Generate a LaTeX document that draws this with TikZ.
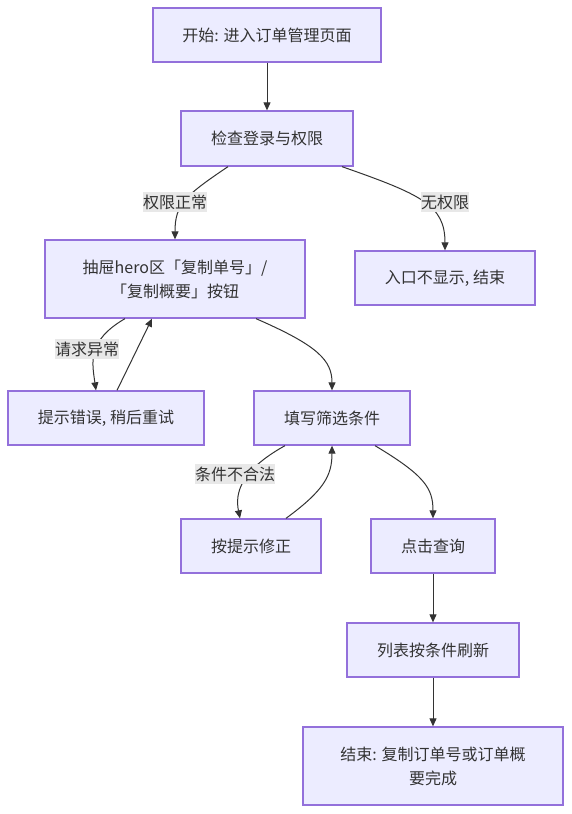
\documentclass[tikz,border=0pt]{standalone}
\usepackage{fontspec}
\setmainfont{Noto Sans CJK SC}
\usetikzlibrary{arrows.meta}
\definecolor{nodefill}{HTML}{ECECFF}
\definecolor{nodeborder}{HTML}{9370DB}
\definecolor{ink}{HTML}{333333}
\definecolor{labelbg}{HTML}{E8E8E8}
\begin{document}
\begin{tikzpicture}[x=1pt,y=-1pt,
  box/.style={draw=nodeborder,fill=nodefill,line width=1.3pt,text=ink,align=center,
    inner sep=0pt,font=\fontsize{16}{24}\selectfont},
  edge/.style={draw=ink,line width=1pt,-{Triangle[length=8pt,width=7pt]}},
  elabel/.style={fill=labelbg,text=ink,inner xsep=0pt,inner ysep=3pt,font=\fontsize{16}{20}\selectfont}]
\useasboundingbox (0,0) rectangle (571,814);
\node[box,minimum width=228pt,minimum height=54pt] (start) at (267,35) {开始: 进入订单管理页面};
\node[box,minimum width=172pt,minimum height=55pt] (check) at (267,138.5) {检查登录与权限};
\node[box,minimum width=260pt,minimum height=78pt] (hero) at (175,279) {抽屉hero区「复制单号」/\\「复制概要」按钮};
\node[box,minimum width=180pt,minimum height=54pt] (noperm) at (445,278) {入口不显示, 结束};
\node[box,minimum width=196pt,minimum height=54pt] (err) at (106,418) {提示错误, 稍后重试};
\node[box,minimum width=156pt,minimum height=54pt] (fill) at (332,418) {填写筛选条件};
\node[box,minimum width=140pt,minimum height=54pt] (fix) at (251,546) {按提示修正};
\node[box,minimum width=124pt,minimum height=54pt] (query) at (433,546) {点击查询};
\node[box,minimum width=172pt,minimum height=54pt] (refresh) at (433,650) {列表按条件刷新};
\node[box,minimum width=260pt,minimum height=78pt] (end) at (433,766) {结束: 复制订单号或订单概\\要完成};

\draw[edge] (start) -- (check);
\draw[edge] ([xshift=-39pt]check.south) .. controls +(-43,29) and +(0,-35) .. (hero.north);
\draw[edge] ([xshift=75pt]check.south) .. controls +(80,28) and +(0,-45) .. (noperm.north);
\draw[edge] ([xshift=-50pt]hero.south) .. controls +(-38,22) and +(-4,-28) .. ([xshift=-10pt]err.north);
\draw[edge] ([xshift=11pt]err.north) -- ([xshift=-23pt]hero.south);
\draw[edge] ([xshift=81pt]hero.south) .. controls +(62,27) and +(0,-30) .. (fill.north);
\draw[edge] ([xshift=-47pt]fill.south) .. controls +(-45,25) and +(-5,-25) .. ([xshift=-11pt]fix.north);
\draw[edge] ([xshift=35pt]fix.north) .. controls +(38,-28) and +(0,30) .. (fill.south);
\draw[edge] ([xshift=43pt]fill.south) .. controls +(50,30) and +(0,-30) .. (query.north);
\draw[edge] (query) -- (refresh);
\draw[edge] (refresh) -- (end);

\node[elabel] (l1) at (175,202) {权限正常};
\node[elabel] (l2) at (445,202) {无权限};
\node[elabel] (l3) at (87,349) {请求异常};
\node[elabel] (l4) at (235,474) {条件不合法};
\end{tikzpicture}
\end{document}
